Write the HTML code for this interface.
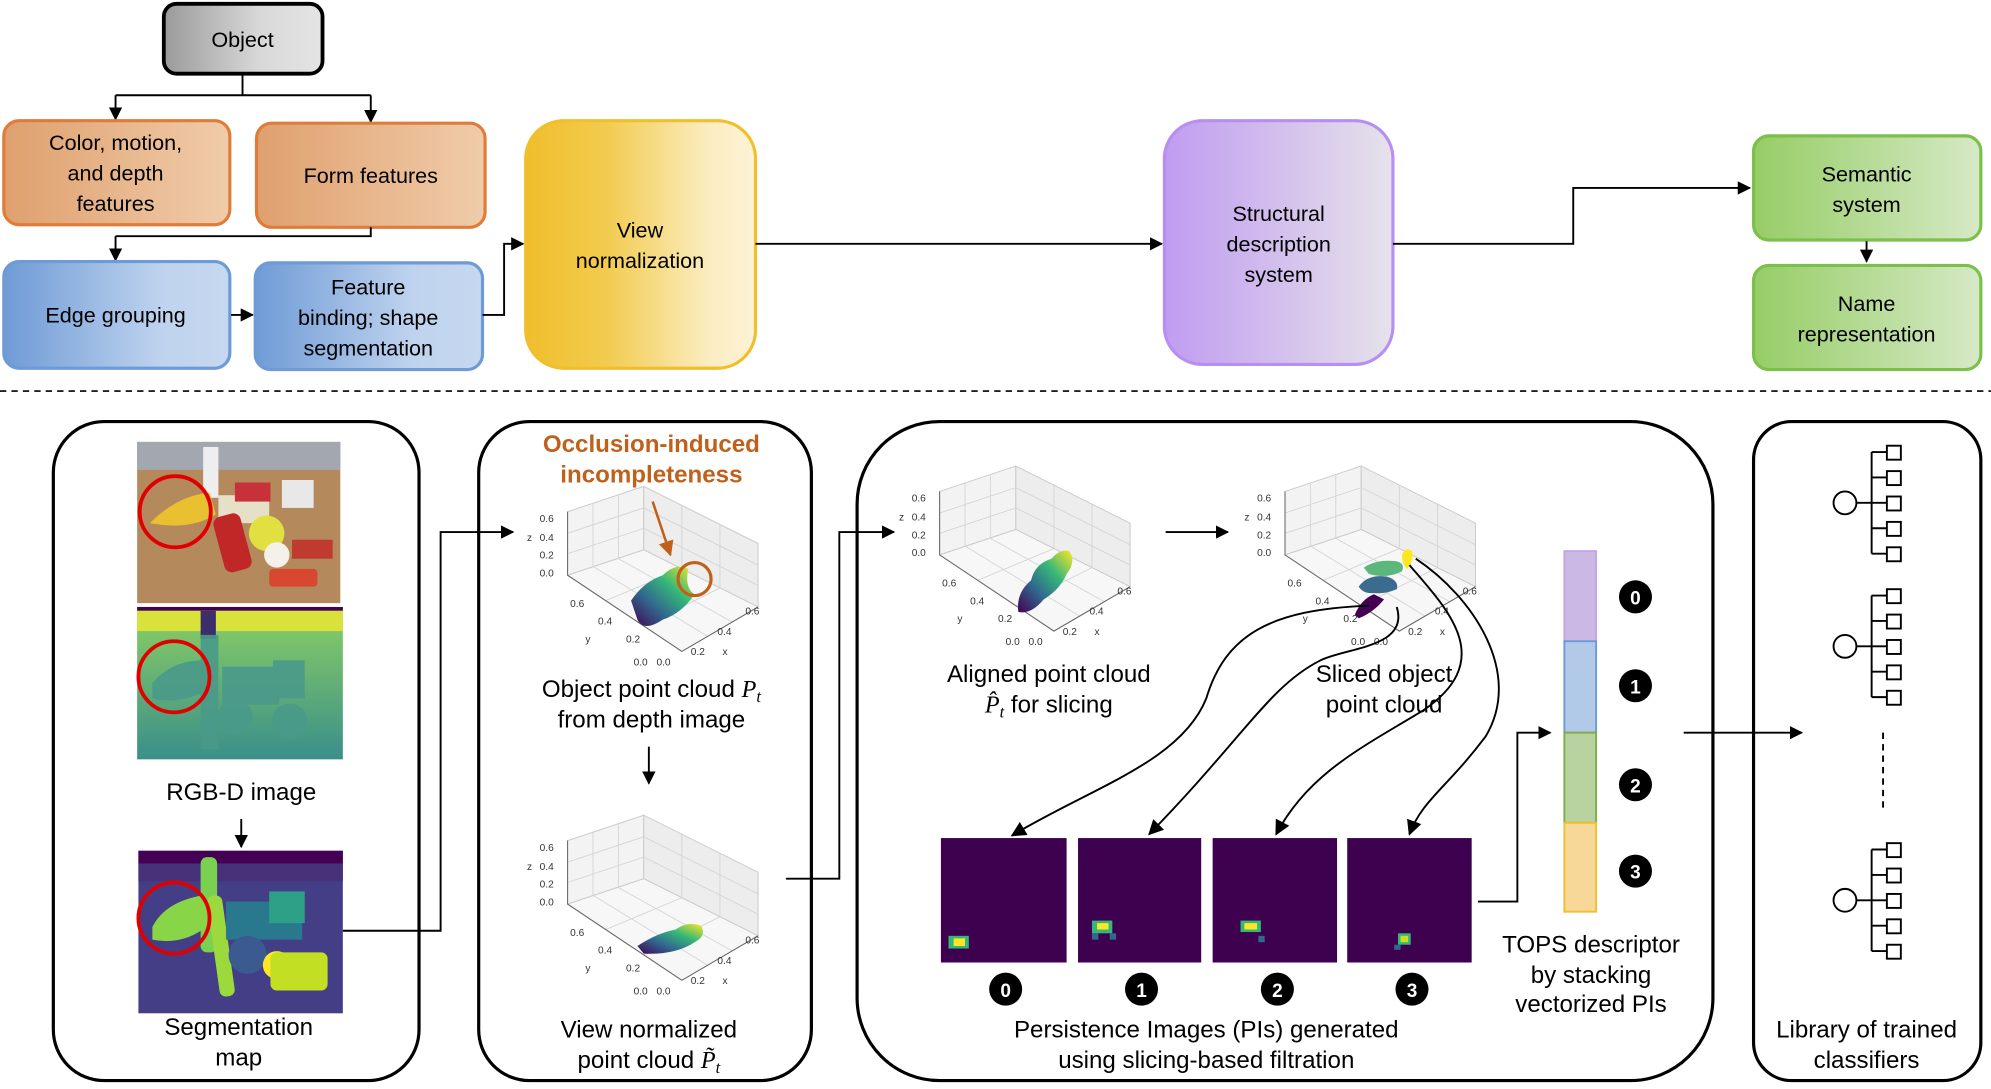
<!DOCTYPE html>
<html><head><meta charset="utf-8"><style>
html,body{margin:0;padding:0;background:#fff}
svg{display:block}
text{font-family:"Liberation Sans",sans-serif}
</style></head><body>
<svg width="1991" height="1089" viewBox="0 0 1568 857.6" xmlns="http://www.w3.org/2000/svg">
<defs>
<linearGradient id="gGray" x1="0" x2="1"><stop offset="0" stop-color="#9a9a9a"/><stop offset="0.6" stop-color="#d8d8d8"/><stop offset="1" stop-color="#e4e4e4"/></linearGradient>
<linearGradient id="gOr" x1="0" x2="1"><stop offset="0" stop-color="#dfa06e"/><stop offset="1" stop-color="#f0ccaa"/></linearGradient>
<linearGradient id="gBl" x1="0" x2="1"><stop offset="0" stop-color="#6f9bd6"/><stop offset="0.7" stop-color="#bfd3ee"/><stop offset="1" stop-color="#c6d8ef"/></linearGradient>
<linearGradient id="gYe" x1="0" x2="1"><stop offset="0" stop-color="#f0be2c"/><stop offset="0.35" stop-color="#f2cb4e"/><stop offset="0.8" stop-color="#fbedc2"/><stop offset="1" stop-color="#fcf2d6"/></linearGradient>
<linearGradient id="gPu" x1="0" x2="1"><stop offset="0" stop-color="#c09cf0"/><stop offset="1" stop-color="#e6e2ea"/></linearGradient>
<linearGradient id="gGr" x1="0" x2="1"><stop offset="0" stop-color="#96cd66"/><stop offset="1" stop-color="#d6e9c6"/></linearGradient>
<linearGradient id="vir" x1="0" y1="1" x2="1" y2="0"><stop offset="0" stop-color="#440154"/><stop offset="0.35" stop-color="#31688e"/><stop offset="0.65" stop-color="#35b779"/><stop offset="1" stop-color="#fde725"/></linearGradient>
<linearGradient id="depth" x1="0" y1="0" x2="0" y2="1"><stop offset="0" stop-color="#8cd062"/><stop offset="1" stop-color="#3a8f8a"/></linearGradient>
<marker id="ah" viewBox="0 0 10 10" refX="9" refY="5" markerWidth="7" markerHeight="7" orient="auto-start-reverse"><path d="M0,0 L10,5 L0,10 z" fill="#000"/></marker>
<marker id="ah2" viewBox="0 0 10 10" refX="9" refY="5" markerWidth="8" markerHeight="8" orient="auto"><path d="M0,0 L10,5 L0,10 z" fill="#000"/></marker>
<marker id="aho" viewBox="0 0 10 10" refX="9" refY="5" markerWidth="6" markerHeight="6" orient="auto"><path d="M0,0 L10,5 L0,10 z" fill="#c0601a"/></marker>
</defs>

<!-- TOP FLOW -->
<rect x="129" y="3" width="125" height="55" rx="10" fill="url(#gGray)" stroke="#000" stroke-width="3"/>
<text x="191" y="37" font-size="17" text-anchor="middle">Object</text>
<path d="M191,58 V75 M91,75 H292" stroke="#000" stroke-width="1.5" fill="none"/>
<path d="M91,75 V94" stroke="#000" stroke-width="1.5" marker-end="url(#ah)"/>
<path d="M292,75 V96" stroke="#000" stroke-width="1.5" marker-end="url(#ah)"/>

<rect x="3" y="95" width="178" height="82" rx="12" fill="url(#gOr)" stroke="#df7c3a" stroke-width="2.5"/>
<text font-size="17" text-anchor="middle"><tspan x="91" y="118">Color, motion,</tspan><tspan x="91" y="142">and depth</tspan><tspan x="91" y="166">features</tspan></text>
<rect x="202" y="97" width="180" height="82" rx="12" fill="url(#gOr)" stroke="#df7c3a" stroke-width="2.5"/>
<text x="292" y="144" font-size="17" text-anchor="middle">Form features</text>

<path d="M292,179 V186 H91" stroke="#000" stroke-width="1.5" fill="none"/>
<path d="M91,186 V205" stroke="#000" stroke-width="1.5" marker-end="url(#ah)"/>

<rect x="3" y="206" width="178" height="84" rx="12" fill="url(#gBl)" stroke="#6e9ad6" stroke-width="2.5"/>
<text x="91" y="254" font-size="17" text-anchor="middle">Edge grouping</text>
<path d="M182,248 H199" stroke="#000" stroke-width="1.5" marker-end="url(#ah)"/>
<rect x="201" y="207" width="179" height="84" rx="12" fill="url(#gBl)" stroke="#6e9ad6" stroke-width="2.5"/>
<text font-size="17" text-anchor="middle"><tspan x="290" y="232">Feature</tspan><tspan x="290" y="256">binding; shape</tspan><tspan x="290" y="280">segmentation</tspan></text>
<path d="M380,248 H397 V192 H412" stroke="#000" stroke-width="1.5" fill="none" marker-end="url(#ah)"/>

<rect x="414" y="95" width="181" height="195" rx="30" fill="url(#gYe)" stroke="#f0bf2c" stroke-width="2.5"/>
<text font-size="17" text-anchor="middle"><tspan x="504" y="187">View</tspan><tspan x="504" y="211">normalization</tspan></text>
<path d="M595,192 H915" stroke="#000" stroke-width="1.5" marker-end="url(#ah)"/>

<rect x="917" y="95" width="180" height="192" rx="30" fill="url(#gPu)" stroke="#b88ff0" stroke-width="2.5"/>
<text font-size="17" text-anchor="middle"><tspan x="1007" y="174">Structural</tspan><tspan x="1007" y="198">description</tspan><tspan x="1007" y="222">system</tspan></text>
<path d="M1097,192 H1239 V148 H1378" stroke="#000" stroke-width="1.5" fill="none" marker-end="url(#ah)"/>

<rect x="1381" y="107" width="179" height="82" rx="12" fill="url(#gGr)" stroke="#7cbf4a" stroke-width="2.5"/>
<text font-size="17" text-anchor="middle"><tspan x="1470" y="143">Semantic</tspan><tspan x="1470" y="167">system</tspan></text>
<path d="M1470,190 V206" stroke="#000" stroke-width="1.5" marker-end="url(#ah)"/>
<rect x="1381" y="209" width="179" height="82" rx="12" fill="url(#gGr)" stroke="#7cbf4a" stroke-width="2.5"/>
<text font-size="17" text-anchor="middle"><tspan x="1470" y="245">Name</tspan><tspan x="1470" y="269">representation</tspan></text>

<path d="M0,308 H1568" stroke="#000" stroke-width="1.3" stroke-dasharray="5,4"/>

<!-- PANELS -->
<g fill="none" stroke="#000" stroke-width="2.5">
<rect x="42" y="332" width="288" height="519" rx="40"/>
<rect x="377" y="332" width="262" height="519" rx="40"/>
<rect x="675" y="332" width="674" height="519" rx="65"/>
<rect x="1381" y="332" width="179" height="519" rx="30"/>
</g>

<!-- Panel 1 images -->
<rect x="108" y="348" width="160" height="127" fill="#b48a5c"/>
<rect x="108" y="348" width="160" height="22" fill="#a3a8b0"/>
<rect x="160" y="352" width="12" height="40" fill="#eee"/>
<rect x="172" y="390" width="40" height="22" fill="#e6e0c8"/>
<rect x="185" y="380" width="28" height="15" fill="#c8303a"/>
<rect x="222" y="378" width="25" height="22" fill="#e8e8e8"/>
<path d="M118,412 Q140,390 165,388 L170,405 Q150,418 118,412z" fill="#e8c030"/>
<rect x="172" y="405" width="22" height="45" rx="6" fill="#c02828" transform="rotate(-15 183 427)"/>
<circle cx="210" cy="420" r="14" fill="#e0e040"/>
<circle cx="218" cy="437" r="10" fill="#f4f0ea"/>
<rect x="212" y="448" width="38" height="14" rx="3" fill="#d84830"/>
<rect x="230" y="425" width="32" height="15" fill="#c03a30"/>
<rect x="108" y="478" width="162" height="120" fill="url(#depth)"/>
<rect x="108" y="478" width="162" height="3" fill="#440154"/>
<rect x="108" y="481" width="162" height="16" fill="#d9e23a"/>
<rect x="158" y="481" width="12" height="22" fill="#3b2e6a"/>
<g fill="#4a9a8a" opacity="0.9"><path d="M120,538 Q135,520 160,520 L160,545 Q140,555 120,550z"/><rect x="158" y="500" width="14" height="90"/><rect x="175" y="525" width="45" height="30"/><circle cx="185" cy="565" r="14"/><rect x="215" y="520" width="25" height="30"/><circle cx="228" cy="568" r="14"/></g>
<rect x="109" y="670" width="161" height="128" fill="#433e85"/>
<rect x="109" y="670" width="161" height="10" fill="#440154"/>
<rect x="109" y="680" width="161" height="14" fill="#47327a"/>
<rect x="158" y="675" width="13" height="75" rx="5" fill="#7ad151"/>
<path d="M120,730 Q130,710 160,705 L165,728 Q145,745 120,740z" fill="#89d548"/>
<rect x="168" y="705" width="12" height="80" rx="5" fill="#9bd93c" transform="rotate(-8 174 745)"/>
<rect x="178" y="710" width="60" height="30" fill="#2a788e"/>
<rect x="212" y="702" width="28" height="25" fill="#2ea087"/>
<circle cx="195" cy="752" r="15" fill="#3b5a8f"/>
<circle cx="218" cy="760" r="11" fill="#fde725"/>
<rect x="213" y="750" width="45" height="30" rx="5" fill="#c2df23"/>
<g fill="none" stroke="#e00000" stroke-width="3"><circle cx="138" cy="403" r="28"/><circle cx="137" cy="533" r="28"/><circle cx="137" cy="723" r="28"/></g>
<text x="190" y="630" font-size="19" text-anchor="middle">RGB-D image</text>
<path d="M190,645 V667" stroke="#000" stroke-width="1.5" marker-end="url(#ah)"/>
<text font-size="19" text-anchor="middle"><tspan x="188" y="815">Segmentation</tspan><tspan x="188" y="839">map</tspan></text>
<path d="M270,733 H347 V419 H404" stroke="#000" stroke-width="1.5" fill="none" marker-end="url(#ah)"/>

<!-- Plot template copies -->
<g id="p1" transform="translate(447,388)">
<polygon points="0,15 60,-5 60,45 0,65" fill="#f3f3f3" stroke="#ccc" stroke-width="0.8"/>
<polygon points="60,-5 150,40 150,90 60,45" fill="#ededed" stroke="#ccc" stroke-width="0.8"/>
<polygon points="0,65 60,45 150,90 90,125" fill="#f7f7f7" stroke="#ccc" stroke-width="0.8"/>
<path d="M0,32 L60,12 M0,48 L60,28 M20,8 V58 M40,2 V52 M60,12 L150,57 M60,28 L150,73 M90,10 V60 M120,25 V75 M30,85 L90,60 M60,105 L120,75 M20,58 L110,113 M40,52 L130,102" stroke="#d4d4d4" stroke-width="0.7" fill="none"/>
<path d="M0,15 V65 L90,125 L150,90" stroke="#666" stroke-width="0.8" fill="none"/>
<g font-size="8" fill="#333"><text x="-22" y="23">0.6</text><text x="-22" y="38">0.4</text><text x="-22" y="52">0.2</text><text x="-22" y="66">0.0</text><text x="-32" y="38">z</text>
<text x="2" y="90">0.6</text><text x="24" y="104">0.4</text><text x="14" y="118">y</text><text x="46" y="118">0.2</text><text x="52" y="136">0.0</text><text x="70" y="136">0.0</text>
<text x="97" y="128">0.2</text><text x="118" y="112">0.4</text><text x="140" y="96">0.6</text><text x="122" y="128">x</text></g>
</g>
<path transform="translate(447,388)" d="M50,85 Q60,70 75,65 Q85,55 95,60 Q92,75 100,80 Q90,95 75,100 Q60,110 55,100z" fill="url(#vir)"/>
<circle cx="547" cy="456" r="13" fill="none" stroke="#c0601a" stroke-width="2.5"/>
<path d="M514,395 L528,437" stroke="#c0601a" stroke-width="2" marker-end="url(#aho)"/>
<text font-size="19" font-weight="bold" fill="#c0601a" text-anchor="middle"><tspan x="513" y="356">Occlusion-induced</tspan><tspan x="513" y="380">incompleteness</tspan></text>
<text font-size="19" text-anchor="middle"><tspan x="513" y="549">Object point cloud <tspan font-style="italic" font-family="Liberation Serif">P</tspan><tspan font-size="13" font-style="italic" font-family="Liberation Serif" dy="4">t</tspan></tspan><tspan x="513" y="573">from depth image</tspan></text>
<path d="M511,588 V617" stroke="#000" stroke-width="1.5" marker-end="url(#ah)"/>

<g transform="translate(447,647)">
<polygon points="0,15 60,-5 60,45 0,65" fill="#f3f3f3" stroke="#ccc" stroke-width="0.8"/>
<polygon points="60,-5 150,40 150,90 60,45" fill="#ededed" stroke="#ccc" stroke-width="0.8"/>
<polygon points="0,65 60,45 150,90 90,125" fill="#f7f7f7" stroke="#ccc" stroke-width="0.8"/>
<path d="M0,32 L60,12 M0,48 L60,28 M20,8 V58 M40,2 V52 M60,12 L150,57 M60,28 L150,73 M90,10 V60 M120,25 V75 M30,85 L90,60 M60,105 L120,75 M20,58 L110,113 M40,52 L130,102" stroke="#d4d4d4" stroke-width="0.7" fill="none"/>
<path d="M0,15 V65 L90,125 L150,90" stroke="#666" stroke-width="0.8" fill="none"/>
<g font-size="8" fill="#333"><text x="-22" y="23">0.6</text><text x="-22" y="38">0.4</text><text x="-22" y="52">0.2</text><text x="-22" y="66">0.0</text><text x="-32" y="38">z</text>
<text x="2" y="90">0.6</text><text x="24" y="104">0.4</text><text x="14" y="118">y</text><text x="46" y="118">0.2</text><text x="52" y="136">0.0</text><text x="70" y="136">0.0</text>
<text x="97" y="128">0.2</text><text x="118" y="112">0.4</text><text x="140" y="96">0.6</text><text x="122" y="128">x</text></g>
<path d="M55,98 Q70,88 85,85 Q95,78 105,82 Q110,90 100,95 Q85,105 60,104z" fill="url(#vir)"/>
</g>
<text font-size="19" text-anchor="middle"><tspan x="511" y="817">View normalized</tspan><tspan x="511" y="841">point cloud <tspan font-style="italic" font-family="Liberation Serif">P̃</tspan><tspan font-size="13" font-style="italic" font-family="Liberation Serif" dy="4">t</tspan></tspan></text>
<path d="M619,692 H661 V419 H704" stroke="#000" stroke-width="1.5" fill="none" marker-end="url(#ah)"/>

<g transform="translate(740,372)">
<polygon points="0,15 60,-5 60,45 0,65" fill="#f3f3f3" stroke="#ccc" stroke-width="0.8"/>
<polygon points="60,-5 150,40 150,90 60,45" fill="#ededed" stroke="#ccc" stroke-width="0.8"/>
<polygon points="0,65 60,45 150,90 90,125" fill="#f7f7f7" stroke="#ccc" stroke-width="0.8"/>
<path d="M0,32 L60,12 M0,48 L60,28 M20,8 V58 M40,2 V52 M60,12 L150,57 M60,28 L150,73 M90,10 V60 M120,25 V75 M30,85 L90,60 M60,105 L120,75 M20,58 L110,113 M40,52 L130,102" stroke="#d4d4d4" stroke-width="0.7" fill="none"/>
<path d="M0,15 V65 L90,125 L150,90" stroke="#666" stroke-width="0.8" fill="none"/>
<g font-size="8" fill="#333"><text x="-22" y="23">0.6</text><text x="-22" y="38">0.4</text><text x="-22" y="52">0.2</text><text x="-22" y="66">0.0</text><text x="-32" y="38">z</text>
<text x="2" y="90">0.6</text><text x="24" y="104">0.4</text><text x="14" y="118">y</text><text x="46" y="118">0.2</text><text x="52" y="136">0.0</text><text x="70" y="136">0.0</text>
<text x="97" y="128">0.2</text><text x="118" y="112">0.4</text><text x="140" y="96">0.6</text><text x="122" y="128">x</text></g>
<path d="M62,110 Q60,95 72,85 Q75,72 88,68 Q95,60 102,62 Q108,70 100,80 Q95,92 82,100 Q72,112 62,110z" fill="url(#vir)"/>
</g>
<path d="M918,419 H967" stroke="#000" stroke-width="1.5" marker-end="url(#ah)"/>

<g transform="translate(1012,372)">
<polygon points="0,15 60,-5 60,45 0,65" fill="#f3f3f3" stroke="#ccc" stroke-width="0.8"/>
<polygon points="60,-5 150,40 150,90 60,45" fill="#ededed" stroke="#ccc" stroke-width="0.8"/>
<polygon points="0,65 60,45 150,90 90,125" fill="#f7f7f7" stroke="#ccc" stroke-width="0.8"/>
<path d="M0,32 L60,12 M0,48 L60,28 M20,8 V58 M40,2 V52 M60,12 L150,57 M60,28 L150,73 M90,10 V60 M120,25 V75 M30,85 L90,60 M60,105 L120,75 M20,58 L110,113 M40,52 L130,102" stroke="#d4d4d4" stroke-width="0.7" fill="none"/>
<path d="M0,15 V65 L90,125 L150,90" stroke="#666" stroke-width="0.8" fill="none"/>
<g font-size="8" fill="#333"><text x="-22" y="23">0.6</text><text x="-22" y="38">0.4</text><text x="-22" y="52">0.2</text><text x="-22" y="66">0.0</text><text x="-32" y="38">z</text>
<text x="2" y="90">0.6</text><text x="24" y="104">0.4</text><text x="14" y="118">y</text><text x="46" y="118">0.2</text><text x="52" y="136">0.0</text><text x="70" y="136">0.0</text>
<text x="97" y="128">0.2</text><text x="118" y="112">0.4</text><text x="140" y="96">0.6</text><text x="122" y="128">x</text></g>
<path d="M55,112 Q60,100 70,96 L78,100 Q70,110 58,115z" fill="#440154"/>
<path d="M58,90 Q65,80 80,82 Q90,85 88,92 Q78,96 70,95 Q62,96 58,90z" fill="#3b6b8f"/>
<path d="M62,75 Q72,68 88,70 Q95,72 92,78 Q80,84 66,80z" fill="#5cb87a"/>
<path d="M92,65 Q95,58 100,62 Q102,70 96,76 Q92,72 92,65z" fill="#fde725"/>
</g>
<text font-size="19" text-anchor="middle"><tspan x="826" y="537">Aligned point cloud</tspan><tspan x="826" y="561"><tspan font-style="italic" font-family="Liberation Serif">P̂</tspan><tspan font-size="13" font-style="italic" font-family="Liberation Serif" dy="4">t</tspan><tspan dy="-4"> for slicing</tspan></tspan></text>
<text font-size="19" text-anchor="middle"><tspan x="1090" y="537">Sliced object</tspan><tspan x="1090" y="561">point cloud</tspan></text>

<!-- curves -->
<g fill="none" stroke="#000" stroke-width="1.5">
<path d="M1078,477 C1000,480 965,500 950,550 C930,600 860,620 797,658" marker-end="url(#ah2)"/>
<path d="M1100,478 C1110,510 1060,510 1040,520 C1000,540 980,580 905,657" marker-end="url(#ah2)"/>
<path d="M1110,445 C1140,480 1180,520 1120,560 C1070,590 1030,610 1005,657" marker-end="url(#ah2)"/>
<path d="M1115,440 C1160,470 1200,530 1170,580 C1140,620 1120,630 1110,657" marker-end="url(#ah2)"/>
</g>

<!-- PI images -->
<rect x="741" y="660" width="99" height="98" fill="#3e0150"/>
<rect x="849" y="660" width="97" height="98" fill="#3e0150"/>
<rect x="955" y="660" width="98" height="98" fill="#3e0150"/>
<rect x="1061" y="660" width="98" height="98" fill="#3e0150"/>
<rect x="747" y="737" width="16" height="10" fill="#35b779"/><rect x="751" y="739" width="9" height="6" fill="#fde725"/>
<rect x="860" y="725" width="16" height="10" fill="#35b779"/><rect x="864" y="727" width="9" height="5" fill="#fde725"/><rect x="860" y="735" width="5" height="5" fill="#31688e"/><rect x="874" y="735" width="5" height="5" fill="#31688e"/>
<rect x="977" y="725" width="16" height="9" fill="#35b779"/><rect x="980" y="727" width="10" height="5" fill="#fde725"/><rect x="991" y="737" width="5" height="5" fill="#31688e"/>
<rect x="1101" y="735" width="10" height="9" fill="#35b779"/><rect x="1103" y="737" width="6" height="5" fill="#c9e020"/><rect x="1098" y="744" width="5" height="4" fill="#31688e"/>
<g font-size="15" font-weight="bold" fill="#fff" text-anchor="middle">
<circle cx="792" cy="779" r="13" fill="#000"/><text x="792" y="785">0</text>
<circle cx="899" cy="779" r="13" fill="#000"/><text x="899" y="785">1</text>
<circle cx="1006" cy="779" r="13" fill="#000"/><text x="1006" y="785">2</text>
<circle cx="1112" cy="779" r="13" fill="#000"/><text x="1112" y="785">3</text>
</g>
<text font-size="19" text-anchor="middle"><tspan x="950" y="817">Persistence Images (PIs) generated</tspan><tspan x="950" y="841">using slicing-based filtration</tspan></text>

<path d="M1164,710 H1195 V577 H1221" stroke="#000" stroke-width="1.5" fill="none" marker-end="url(#ah)"/>
<rect x="1232" y="434" width="25" height="71" fill="#cbb8e4" stroke="#c0a8e4" stroke-width="1.5"/>
<rect x="1232" y="505" width="25" height="72" fill="#b2c9e8" stroke="#6c9ad6" stroke-width="1.5"/>
<rect x="1232" y="577" width="25" height="71" fill="#b9d3a0" stroke="#7cae4a" stroke-width="1.5"/>
<rect x="1232" y="648" width="25" height="70" fill="#f7d898" stroke="#f0bf2c" stroke-width="1.5"/>
<g font-size="15" font-weight="bold" fill="#fff" text-anchor="middle">
<circle cx="1288" cy="470" r="13" fill="#000"/><text x="1288" y="476">0</text>
<circle cx="1288" cy="540" r="13" fill="#000"/><text x="1288" y="546">1</text>
<circle cx="1288" cy="618" r="13" fill="#000"/><text x="1288" y="624">2</text>
<circle cx="1288" cy="686" r="13" fill="#000"/><text x="1288" y="692">3</text>
</g>
<text font-size="19" text-anchor="middle"><tspan x="1253" y="750">TOPS descriptor</tspan><tspan x="1253" y="774">by stacking</tspan><tspan x="1253" y="797">vectorized PIs</tspan></text>
<path d="M1326,577 H1419" stroke="#000" stroke-width="1.5" marker-end="url(#ah)"/>

<!-- trees -->
<g fill="none" stroke="#000" stroke-width="1.5">
<g transform="translate(0,0)"><circle cx="1453" cy="396" r="9"/><path d="M1462,396 H1474 M1474,356 V436 M1474,356 H1486 M1474,376 H1486 M1474,396 H1486 M1474,416 H1486 M1474,436 H1486"/><rect x="1486" y="351" width="11" height="11"/><rect x="1486" y="371" width="11" height="11"/><rect x="1486" y="391" width="11" height="11"/><rect x="1486" y="411" width="11" height="11"/><rect x="1486" y="431" width="11" height="11"/></g>
<g transform="translate(0,113)"><circle cx="1453" cy="396" r="9"/><path d="M1462,396 H1474 M1474,356 V436 M1474,356 H1486 M1474,376 H1486 M1474,396 H1486 M1474,416 H1486 M1474,436 H1486"/><rect x="1486" y="351" width="11" height="11"/><rect x="1486" y="371" width="11" height="11"/><rect x="1486" y="391" width="11" height="11"/><rect x="1486" y="411" width="11" height="11"/><rect x="1486" y="431" width="11" height="11"/></g>
<g transform="translate(0,313)"><circle cx="1453" cy="396" r="9"/><path d="M1462,396 H1474 M1474,356 V436 M1474,356 H1486 M1474,376 H1486 M1474,396 H1486 M1474,416 H1486 M1474,436 H1486"/><rect x="1486" y="351" width="11" height="11"/><rect x="1486" y="371" width="11" height="11"/><rect x="1486" y="391" width="11" height="11"/><rect x="1486" y="411" width="11" height="11"/><rect x="1486" y="431" width="11" height="11"/></g>
<path d="M1483,577 V640" stroke-dasharray="5,4"/>
</g>
<text font-size="19" text-anchor="middle"><tspan x="1470" y="817">Library of trained</tspan><tspan x="1470" y="841">classifiers</tspan></text>
</svg>
</body></html>
